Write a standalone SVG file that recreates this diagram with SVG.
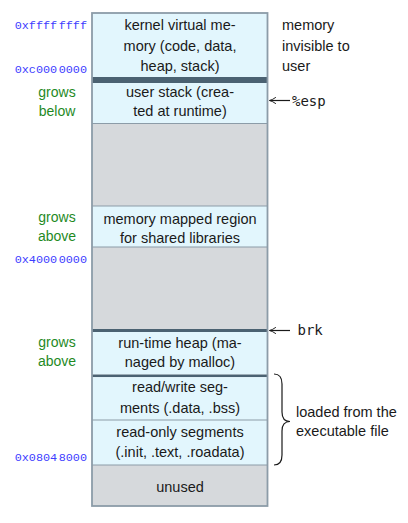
<svg xmlns="http://www.w3.org/2000/svg" width="408" height="523" viewBox="0 0 408 523">
<style>
.seg{fill:#e2f6fd}
.free{fill:#d6d9dc}
.band{fill:#4b6272}
.div{stroke:#8c9ca8;stroke-width:1.2;fill:none}
.frame{fill:none;stroke:#8c9ca8;stroke-width:1.8}
.t{font-family:"Liberation Sans",Arial,sans-serif;font-size:14.5px;fill:#1a1a1a;text-anchor:middle}
.side{font-family:"Liberation Sans",Arial,sans-serif;font-size:14.5px;fill:#1a1a1a}
.g{font-family:"Liberation Sans",Arial,sans-serif;font-size:14px;fill:#1f8a1f;text-anchor:middle}
.a{font-family:"Liberation Mono","DejaVu Sans Mono",monospace;font-size:11.8px;fill:#3d3dff;text-anchor:end}
.m{font-family:"DejaVu Sans Mono","Liberation Mono",monospace;font-size:14px;fill:#1a1a1a}
.arr{stroke:#1a1a1a;stroke-width:1.2;fill:none}
</style>
<defs>
<marker id="ah" viewBox="0 0 10 10" refX="9" refY="5" markerWidth="8" markerHeight="8" markerUnits="userSpaceOnUse" orient="auto">
<path d="M1,1 Q6,4.5 9,5 Q6,5.5 1,9" fill="none" stroke="#1a1a1a" stroke-width="1.2"/>
</marker>
</defs>
<g id="kernel">
<rect class="seg" x="92" y="13" width="175.5" height="64"/>
<text class="t" x="180" y="30">kernel virtual me-</text>
<text class="t" x="180" y="51">mory (code, data,</text>
<text class="t" x="180" y="71">heap, stack)</text>
</g>
<g id="kernel-band"><rect class="band" x="92" y="77" width="175.5" height="6"/></g>
<g id="user-stack">
<rect class="seg" x="92" y="83" width="175.5" height="40.5"/>
<text class="t" x="180" y="96.5">user stack (crea-</text>
<text class="t" x="180" y="116">ted at runtime)</text>
</g>
<g id="free1"><rect class="free" x="92" y="123.5" width="175.5" height="82.5"/></g>
<g id="mmap">
<rect class="seg" x="92" y="206" width="175.5" height="41"/>
<text class="t" x="180" y="224">memory mapped region</text>
<text class="t" x="180" y="243">for shared libraries</text>
</g>
<g id="free2"><rect class="free" x="92" y="247" width="175.5" height="82"/></g>
<g id="brk-band"><rect class="band" x="92" y="329" width="175.5" height="3"/></g>
<g id="heap">
<rect class="seg" x="92" y="332" width="175.5" height="42.5"/>
<text class="t" x="180" y="347.5">run-time heap (ma-</text>
<text class="t" x="180" y="367">naged by malloc)</text>
</g>
<g id="heap-band"><rect class="band" x="92" y="374.5" width="175.5" height="2.7"/></g>
<g id="rw">
<rect class="seg" x="92" y="377.2" width="175.5" height="42.8"/>
<text class="t" x="180" y="391.5">read/write seg-</text>
<text class="t" x="180" y="412.5">ments (.data, .bss)</text>
</g>
<g id="ro">
<rect class="seg" x="92" y="420" width="175.5" height="45"/>
<text class="t" x="180" y="436.5">read-only segments</text>
<text class="t" x="180" y="456.5">(.init, .text, .roadata)</text>
</g>
<g id="unused">
<rect class="free" x="92" y="465" width="175.5" height="41"/>
<text class="t" x="180" y="491.5">unused</text>
</g>
<g id="dividers">
<line class="div" x1="92" y1="123.5" x2="267.5" y2="123.5"/>
<line class="div" x1="92" y1="206" x2="267.5" y2="206"/>
<line class="div" x1="92" y1="247" x2="267.5" y2="247"/>
<line class="div" x1="92" y1="420" x2="267.5" y2="420"/>
<line class="div" x1="92" y1="465" x2="267.5" y2="465"/>
<rect class="frame" x="92" y="13" width="175.5" height="493"/>
</g>
<g id="addresses">
<text class="a" x="87" y="28.5">0xffff<tspan dx="1.5">ffff</tspan></text>
<text class="a" x="87" y="73">0xc000<tspan dx="1.5">0000</tspan></text>
<text class="a" x="87" y="262.5">0x4000<tspan dx="1.5">0000</tspan></text>
<text class="a" x="87" y="460.5">0x0804<tspan dx="1.5">8000</tspan></text>
</g>
<g id="growth">
<text class="g" x="57" y="96.5">grows</text>
<text class="g" x="57" y="115.5">below</text>
<text class="g" x="57" y="221.5">grows</text>
<text class="g" x="57" y="240.5">above</text>
<text class="g" x="57" y="346.5">grows</text>
<text class="g" x="57" y="366">above</text>
</g>
<g id="kernel-note">
<text class="side" x="282" y="30">memory</text>
<text class="side" x="282" y="51">invisible to</text>
<text class="side" x="282" y="71">user</text>
</g>
<g id="connectors">
<line class="arr" x1="290" y1="100.5" x2="269.5" y2="100.5" marker-end="url(#ah)"/>
<line class="arr" x1="290" y1="330.5" x2="269.5" y2="330.5" marker-end="url(#ah)"/>
<path class="arr" d="M274,374 Q282,374 282,384 L282,412 Q282,421.5 290,421.5 Q282,421.5 282,431 L282,455 Q282,465 274,465"/>
</g>
<g id="pointer-labels">
<text class="m" x="292" y="105.5">%esp</text>
<text class="m" x="297.5" y="335">brk</text>
<text class="side" x="296" y="416.5">loaded from the</text>
<text class="side" x="296" y="436">executable file</text>
</g>
</svg>
